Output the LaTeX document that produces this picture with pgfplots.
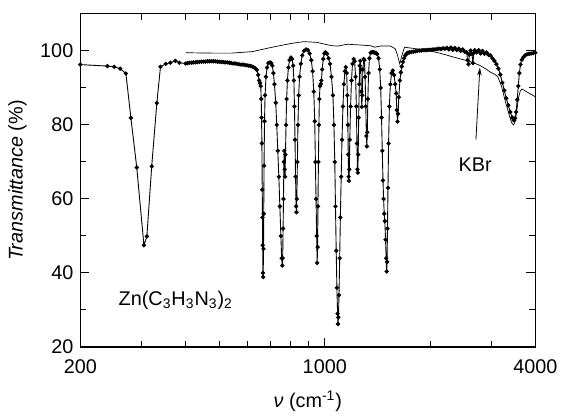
\documentclass[border=0pt]{standalone}
\usepackage{fontspec}
\setmainfont{Liberation Sans}
\usepackage{pgfplots}
\usepackage{pgfplotstable}
\pgfplotsset{compat=1.18}
\usetikzlibrary{arrows.meta}

\pgfplotstableread{
nu T
200 96.3
239 95.9
250 95.7
260 95.2
270 93.9
279 81.9
290 68.5
304 47.5
310 49.9
320 68.8
331 85.9
339 95.7
351 96.5
362 96.8
374 97.3
384 96.8
400 96.6
405 96.7
410 96.8
416 96.8
421 96.9
427 96.9
432 97.0
438 97.0
444 97.1
450 97.1
456 97.1
462 97.2
468 97.2
474 97.2
480 97.2
486 97.2
493 97.1
499 97.1
506 97.0
512 97.0
519 96.9
526 96.9
533 96.8
540 96.7
547 96.6
554 96.6
561 96.5
569 96.4
576 96.3
584 96.3
591 96.2
599 96.1
607 96.0
615 95.9
623 95.7
631 95.4
639 94.9
645 93.5
649 92.0
653 91.3
656 90.5
658 87
659.5 82
661 75
662.5 62.5
663.5 55
664.5 47.5
665.5 40
666.5 38.9
668 46.5
669 56
670.5 69
672.5 81
675 88
679 93
684 95.5
690 96.7
697 96.9
703 96.7
708 96
713 94
718 91
724 86
729 80
734 73
739 66
744 58
749 50
753 44
756 42
758 44
760 52
762 60
764 70
766 73
768 68
770 66
772 72
775 80
778 87
782 92
787 95.5
793 97.5
800 98.2
806 97.8
812 96
816 92
819 85
822 76
825 66
828 58
830 56.4
832 60
835 70
838 80
842 88
847 93
854 96.5
862 98.8
872 100
884 100.4
895 100.2
905 99.3
915 97.5
923 94.5
930 89
936 81
940 70
944 60
948 50
951 42.7
954 47
956 58
959 70
962 80
965 87
969 90.5
974 91.1
978 92
983 95
990 97.8
997 99.3
1004 99.6
1015 99.2
1025 98
1035 96.5
1045 93
1055 88
1062 80
1068 70
1073 58
1078 46
1083 36
1088 29
1091 26.2
1094 28
1098 34
1103 44
1108 55
1114 66
1120 76
1127 85
1134 91
1142 94.5
1148 95.6
1155 94
1160 88
1164 80
1167 72
1170 66
1172 64.9
1175 68
1179 76
1185 85
1192 92
1200 96.5
1209 97.8
1217 97.2
1225 93
1231 85
1236 75
1240 68
1243 67.1
1246 72
1250 82
1255 91
1259 96
1263 97.3
1268 95
1272 89
1276 84.9
1280 88
1285 95
1292 97.8
1298 97.5
1304 93
1310 85
1315 77
1319 74.2
1323 78
1328 87
1334 94
1342 98
1352 99.5
1362 99.6
1372 99.7
1382 99.6
1392 99.5
1402 99.4
1412 99.1
1425 98
1436 95
1445 90
1453 82
1460 73
1467 65
1473 60
1479 56
1485 54
1492 49
1498 44
1503 40.4
1507 43
1511 52
1516 63
1522 75
1530 85
1540 91
1552 94
1565 94.7
1578 93.5
1590 91
1600 88.5
1607 84
1614 80.9
1620 83
1628 87.5
1640 92
1650 94.2
1660 95.8
1672 97
1685 98
1700 98.8
1715 99.3
1730 99.5
1745 99.6
1768 99.7
1791 99.8
1815 99.9
1838 100
1862 100.1
1887 100.1
1911 100.2
1936 100.2
1962 100.2
1987 100.3
2013 100.3
2040 100.4
2066 100.4
2093 100.5
2121 100.6
2149 100.5
2177 100.7
2205 100.6
2234 100.8
2264 100.4
2293 100.9
2323 100.3
2354 100.8
2384 100.2
2416 100.6
2447 100.0
2479 100.4
2512 99.8
2545 99.6
2560 97.5
2575 96.4
2590 99.0
2612 100.1
2635 99.2
2652 96.7
2668 99.5
2683 100.2
2718 99.6
2754 100.2
2790 99.3
2826 100.0
2863 99.2
2901 99.6
2939 98.9
2977 98.8
3016 98.0
3056 97.3
3096 96.4
3136 95.2
3177 93.6
3219 91.4
3261 89.3
3304 87.2
3347 85.3
3391 83.5
3435 82.0
3465 81.3
3480 81.3
3500 81.8
3525 83.5
3550 86.8
3575 90.5
3600 94
3628 96.3
3660 97.6
3698 98.3
3740 98.8
3790 99.1
3840 99.2
3890 99.3
3945 99.4
4000 99.5
}\mainspec

\pgfplotstableread{
nu T
400 99.5
480 99.4
540 99.4
620 99.8
700 100.9
800 102.0
870 102.5
950 102.3
1000 101.8
1050 101.4
1090 101.3
1160 101.8
1260 101.6
1350 101.4
1390 101.0
1440 101.3
1540 101.3
1590 100.6
1615 98.8
1638 96.5
1660 98.6
1690 101.0
1750 100.8
1850 100.5
2000 100.0
2150 99.3
2300 98.5
2450 97.8
2566 97.3
2660 96.8
2758 96.2
2870 95.3
2982 94.2
3060 93.7
3122 93.1
3200 90.5
3280 86.5
3360 83.0
3420 80.6
3465 80.0
3500 80.8
3540 83.8
3580 87.3
3620 89.1
3660 89.7
3700 89.5
3800 88.8
3900 88.2
4000 87.6
}\kbr

\begin{document}
\begin{tikzpicture}
\begin{axis}[
  at={(0,0)}, anchor=south west,
  scale only axis, width=229.5pt, height=168pt,
  xmode=log, xmin=200, xmax=4000, ymin=20, ymax=110,
  xtick={200,1000,4000}, xticklabels={200,1000,4000},
  minor xtick={300,400,500,600,700,800,900,2000,3000},
  ytick={20,40,60,80,100}, minor ytick={30,50,70,90},
  tick align=inside, major tick length=4.5pt, minor tick length=3pt,
  tick style={black, line width=0.5pt},
  axis line style={line width=0.6pt},
  /pgf/number format/assume math mode=true,
  font=\fontsize{10}{12}\selectfont,
  xticklabel style={yshift=-3pt},
  xlabel={\textit{ν} (cm\textsuperscript{-1})},
  xlabel style={yshift=-1.5pt},
  ylabel={\textit{Transmittance} (\%)},
  clip=true,
]
\addplot[black, line width=0.35pt] table[x=nu, y=T] {\kbr};
\addplot[black, line width=0.45pt, mark=*, mark size=0.85pt] table[x=nu, y=T] {\mainspec};
\node at (axis cs:375,32.5) {Zn(C\textsubscript{3}H\textsubscript{3}N\textsubscript{3})\textsubscript{2}};
\node at (axis cs:2690,69.3) {KBr};
\draw[-{Stealth[length=4pt,width=2.2pt]}, line width=0.4pt] (axis cs:2705,76) -- (axis cs:2776,95.5);
\end{axis}
\path (-40.5pt,-28.5pt) rectangle (241.5pt,175pt);
\end{tikzpicture}
\end{document}
